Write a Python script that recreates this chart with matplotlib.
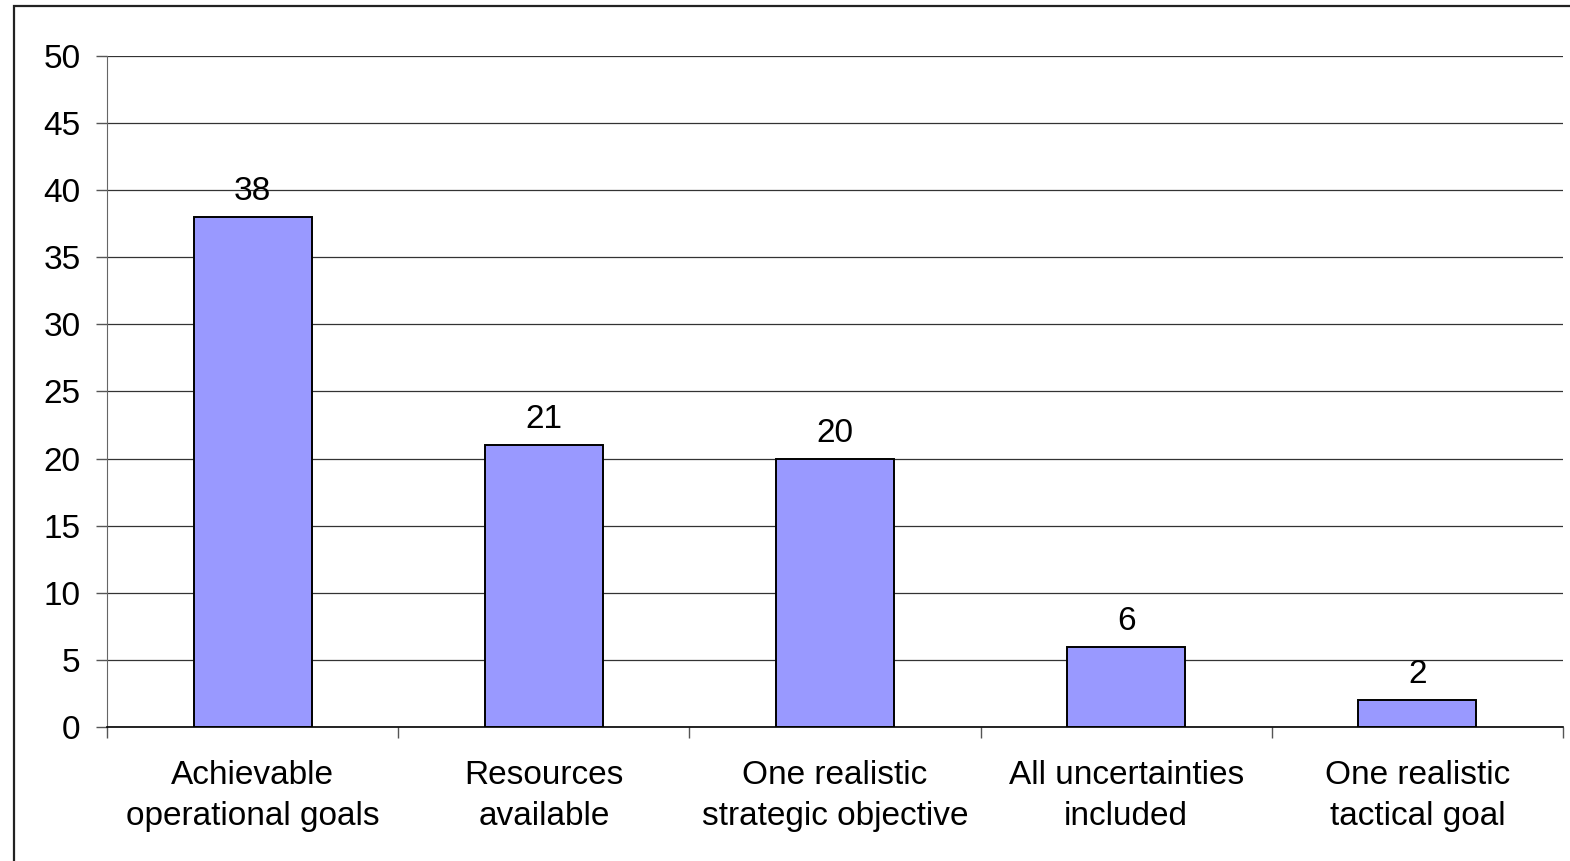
import numpy as np
import matplotlib.pyplot as plt
from matplotlib.patches import Rectangle

categories = ['Achievable\noperational goals', 'Resources\navailable',
              'One realistic\nstrategic objective', 'All uncertainties\nincluded',
              'One realistic\ntactical goal']
counts = [38, 21, 20, 6, 2]

plt.rcParams['font.family'] = ['Liberation Sans', 'DejaVu Sans']

fig = plt.figure(figsize=(15.7, 8.61), dpi=100)
ax = fig.add_axes([0.0682, 0.1556, 0.9273, 0.7794])

# frame round the whole chart
fig.patches.append(Rectangle((0.0089, -0.05), 1.1, 1.043, transform=fig.transFigure,
                             fill=False, edgecolor='#222222', linewidth=1.6))

x = np.arange(len(counts))
bars = ax.bar(x, counts, width=0.405, color='#9999FF', edgecolor='black', linewidth=1.4, zorder=3)

for b, v in zip(bars, counts):
    ax.annotate(str(v), (b.get_x() + b.get_width() / 2, v), xytext=(0, 7),
                textcoords='offset points', ha='center', va='bottom', fontsize=24)

ax.set_xlim(-0.5, len(counts) - 0.5)
ax.set_ylim(0, 50)
ax.set_yticks(np.arange(0, 51, 5))
ax.yaxis.grid(True, color='#333333', linewidth=0.9, zorder=0)

ax.set_xticks(np.arange(-0.5, len(counts)), minor=False)
ax.set_xticklabels([])
ax.set_xticks(x, minor=True)
ax.set_xticklabels(categories, minor=True, fontsize=24, linespacing=1.4)
ax.tick_params(axis='x', which='major', length=8, width=1, color='#555555', direction='out')
ax.tick_params(axis='x', which='minor', length=0, pad=24)
ax.tick_params(axis='y', length=8, width=1, color='#555555', labelsize=24, pad=11)

for s in ['top', 'right']:
    ax.spines[s].set_visible(False)
ax.spines['left'].set_color('#666666')
ax.spines['bottom'].set_color('black')
ax.spines['bottom'].set_linewidth(1.2)

fig.savefig('out.png', dpi=100)
